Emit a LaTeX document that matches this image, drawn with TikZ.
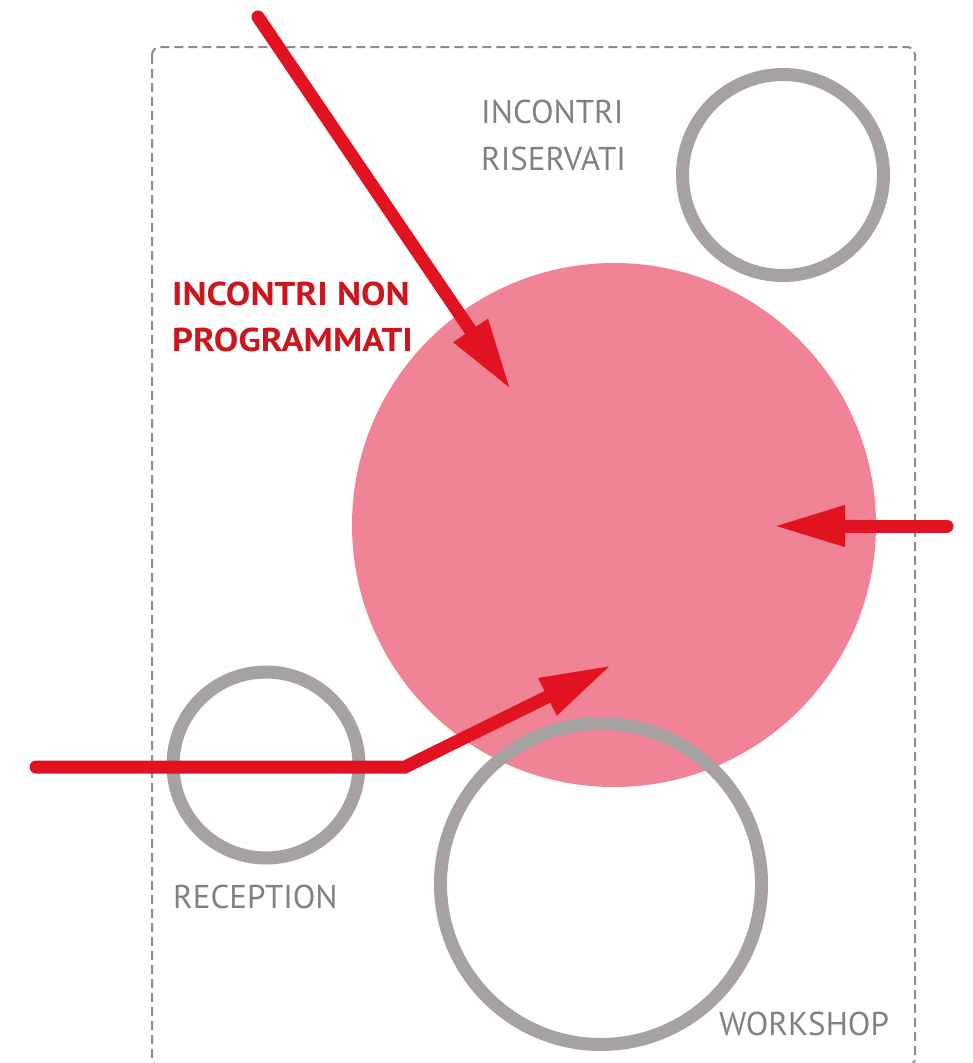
\documentclass[tikz,border=0pt]{standalone}
\usepackage{fontspec}
\setmainfont{PT Sans}
\newfontfamily\grassetto{PT Sans}[FakeStretch=1.11]
\usetikzlibrary{arrows.meta,positioning}
\definecolor{rosa}{RGB}{240,131,150}
\definecolor{rosso}{RGB}{226,19,32}
\definecolor{rossoscuro}{RGB}{204,22,30}
\definecolor{grigio}{RGB}{167,162,162}
\definecolor{grigiotesto}{RGB}{128,128,134}
\definecolor{grigiobordo}{RGB}{140,140,140}
\begin{document}
\begin{tikzpicture}[x=1pt,y=-1pt,
  stanza/.style={circle,draw=grigio,line width=13pt,inner sep=0pt,minimum size=#1},
  flusso/.style={rosso,line width=13pt,line cap=round,-{Triangle[length=72pt,width=38pt]}},
  etichetta/.style={text=grigiotesto,font=\fontsize{33}{47}\selectfont,inner sep=0pt,align=left}]
\useasboundingbox (0,0) rectangle (972,1063);
\pgfmathsetmacro{\rosa}{524};
%area
\draw[grigiobordo,line width=2pt,dash pattern=on 9pt off 5pt,rounded corners=8pt] (152,47) rectangle (915,1066);
\node[circle,fill=rosa,inner sep=0pt,minimum size=\rosa] (incontri) at (614,525) {};
\node[stanza=201] (riservati) at (783,175) {};
\node[stanza=186] (reception) at (266,765) {};
\node[stanza=321] (workshop) at (601,884) {};
%testi
\node[etichetta,anchor=north west] (triservati) at (481,100) {INCONTRI\\RISERVATI};
\node[etichetta,anchor=north west,text=rossoscuro,font=\grassetto\bfseries\fontsize{33}{46}\selectfont] (tnonprog) at (172,282) {INCONTRI NON\\PROGRAMMATI};
\node[etichetta,anchor=base west] (treception) at (173,908) {RECEPTION};
\node[etichetta,anchor=base west] (tworkshop) at (719,1035) {WORKSHOP};
%flussi
\coordinate (ingressoA) at (258,17);
\coordinate (puntaA) at (511,390);
\coordinate (ingressoB) at (947,526);
\coordinate (puntaB) at (773,526);
\coordinate (ingressoC) at (36,767);
\coordinate (gomito) at (405,767);
\coordinate (puntaC) at (612,665);
\draw[flusso] (ingressoA) -- (puntaA);
\draw[flusso] (ingressoB) -- (puntaB);
\draw[flusso] (ingressoC) -- (gomito) -- (puntaC);
\end{tikzpicture}
\end{document}
